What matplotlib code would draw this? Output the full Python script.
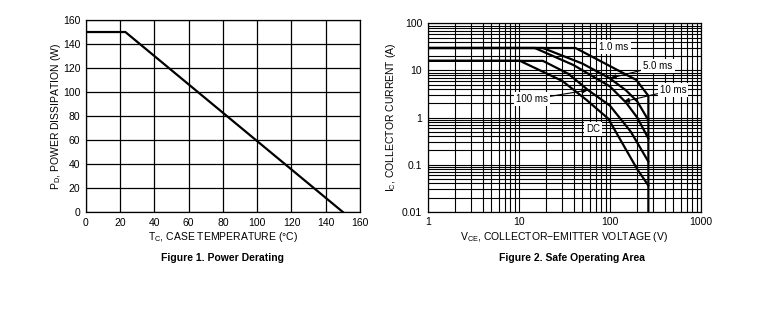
import numpy as np
import matplotlib.pyplot as plt
from matplotlib.ticker import LogLocator, FixedLocator, NullFormatter

plt.rcParams.update({
    "font.family": ["Liberation Sans", "DejaVu Sans"],
    "font.size": 7,
    "mathtext.default": "regular",
    "axes.linewidth": 0.9,
})

# Figure 1: power derating
tc = [0, 23, 150]
pd = [150, 150, 0]

# Figure 2: safe operating area curves (V, A)
v_1ms = [1, 42, 195, 265, 265]
i_1ms = [30, 30, 6.3, 2.9, 0.01]
v_5ms = [1, 18.4, 50, 100, 150, 200, 265]
i_5ms = [30, 30, 14, 6.8, 3.8, 2.2, 0.88]
v_10ms = [1, 15, 40, 100, 150, 200, 265]
i_10ms = [30, 30, 13, 4.6, 2.1, 1.0, 0.36]
v_100ms = [1, 18.4, 35, 58, 100, 170, 265]
i_100ms = [16, 16, 8.5, 3.8, 1.8, 0.5, 0.116]
v_dc = [1, 10.3, 30, 55, 96, 166, 200, 265]
i_dc = [16, 16, 6, 2.4, 0.95, 0.15, 0.08, 0.036]

fig = plt.figure(figsize=(7.61, 3.31), dpi=100)

# ---- left chart
ax1 = fig.add_axes([0.113, 0.3595, 0.360, 0.580])
ax1.plot(tc, pd, color="black", lw=1.6, solid_joinstyle="miter", zorder=3)
ax1.set_xlim(0, 160)
ax1.set_ylim(0, 160)
ax1.set_xticks(np.arange(0, 161, 20))
ax1.set_yticks(np.arange(0, 161, 20))
ax1.grid(True, color="black", lw=0.9)
ax1.tick_params(length=0, pad=4, labelsize=7.5)
ax1.set_xlabel("T$_C$, CASE TEMPERATURE (°C)", fontsize=7.5, labelpad=2)
ax1.set_ylabel("P$_D$, POWER DISSIPATION (W)", fontsize=7.5, labelpad=0)
for s in ax1.spines.values():
    s.set_color("black")
fig.text(0.293, 1 - 258 / 331, "Figure 1. Power Derating", ha="center",
         va="center", fontsize=7.5, fontweight="bold")

# ---- right chart
ax2 = fig.add_axes([0.562, 0.3604, 0.359, 0.569])
for v, i in [(v_1ms, i_1ms), (v_5ms, i_5ms), (v_10ms, i_10ms),
             (v_100ms, i_100ms), (v_dc, i_dc)]:
    ax2.plot(v, i, color="black", lw=1.6, zorder=3)
ax2.set_xscale("log")
ax2.set_yscale("log")
ax2.set_xlim(1, 1000)
ax2.set_ylim(0.01, 100)
ax2.xaxis.set_major_locator(FixedLocator([1, 10, 100, 1000]))
ax2.yaxis.set_major_locator(FixedLocator([0.01, 0.1, 1, 10, 100]))
ax2.set_xticklabels(["1", "10", "100", "1000"])
ax2.set_yticklabels(["0.01", "0.1", "1", "10", "100"])
ax2.xaxis.set_minor_locator(LogLocator(base=10, subs=np.arange(2, 10)))
ax2.yaxis.set_minor_locator(LogLocator(base=10, subs=np.arange(2, 10)))
ax2.xaxis.set_minor_formatter(NullFormatter())
ax2.yaxis.set_minor_formatter(NullFormatter())
ax2.grid(True, which="both", color="black", lw=0.8)
ax2.tick_params(which="both", length=0, pad=4, labelsize=7.5)
ax2.set_xlabel("V$_{CE}$, COLLECTOR\u2212EMITTER VOLTAGE (V)", fontsize=7.5,
               labelpad=2)
ax2.set_ylabel("I$_C$, COLLECTOR CURRENT (A)", fontsize=7.5, labelpad=3)
for s in ax2.spines.values():
    s.set_color("black")

box = dict(facecolor="white", edgecolor="none", pad=1.5)
arrow = dict(arrowstyle="-|>,head_length=0.5,head_width=0.2", color="black",
             lw=0.8, shrinkA=0, shrinkB=0)
ax2.text(111, 31, "1.0 ms", ha="center", va="center", bbox=box, zorder=4)
ax2.text(65, 0.56, "DC", ha="center", va="center", bbox=box, zorder=4)
ax2.annotate("5.0 ms", xy=(100, 6.8), xytext=(337, 12.4), ha="center",
             va="center", bbox=box, arrowprops=arrow, zorder=4)
ax2.annotate("10 ms", xy=(140, 2.16), xytext=(493, 3.84), ha="center",
             va="center", bbox=box, arrowprops=arrow, zorder=4)
ax2.annotate("100 ms", xy=(58, 3.84), xytext=(13.9, 2.43), ha="center",
             va="center", bbox=box, arrowprops=arrow, zorder=4)
fig.text(0.751, 1 - 258 / 331, "Figure 2. Safe Operating Area", ha="center",
         va="center", fontsize=7.5, fontweight="bold")

fig.savefig("out.png", dpi=100)
